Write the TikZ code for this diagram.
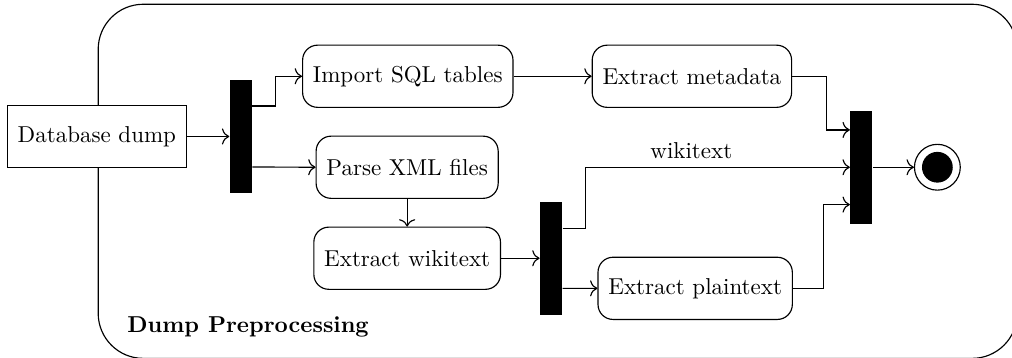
\documentclass[tikz,border=0pt]{standalone}
\usepackage{amssymb}
\usepackage{amsmath}
\usepackage{tikz}
\usetikzlibrary{calc,arrows.meta}

\tikzset{
    action/.style={draw, rounded corners=6.5pt, minimum height=0.95cm, inner xsep=4.5pt},
    source/.style={draw, minimum height=0.95cm, inner xsep=4.5pt},
    forkbar/.style={fill=black, minimum width=0.336cm, minimum height=1.73cm, inner sep=0pt},
    flow/.style={-{To[length=3.2pt, width=7pt]}},
}

\begin{document}
\begin{tikzpicture}[line width=0.5pt]
        \useasboundingbox (0,0) rectangle (15.46,5.455);
        \draw [rounded corners=19.6pt](1.50,-0.02) rectangle (15.54,5.39);
        \node[] (title) at (3.79,0.46) {\textbf{Dump Preprocessing}};

        \node[source, fill=white] (dump) at (1.48,3.37) {Database dump};
        \node[forkbar] (fork) at (3.68,3.37) {};
        \node[action] (import) at (6.23,4.29) {Import SQL tables};
        \node[action] (meta) at (10.57,4.29) {Extract metadata};
        \node[action] (parse) at (6.22,2.90) {Parse XML files};
        \node[action] (wiki) at (6.22,1.51) {Extract wikitext};
        \node[forkbar] (split) at (8.42,1.51) {};
        \node[action] (plain) at (10.62,1.05) {Extract plaintext};
        \node[forkbar] (join) at (13.16,2.90) {};
        \node[circle, draw, minimum size=0.70cm, inner sep=0pt] (final) at (14.32,2.90) {};
        \node[circle, fill=black, minimum size=0.47cm, inner sep=0pt] (finaldot) at (final) {};

        \draw[flow] (dump.east) -- (fork.west);
        \draw[flow] ([yshift=0.466cm]fork.east) -- ++(0.35,0) |- (import.west);
        \draw[flow] ([yshift=-0.466cm]fork.east) -- (parse.west);
        \draw[flow] (import.east) -- (meta.west);
        \draw[flow] (meta.east) -- ++(0.53,0) |- ([yshift=0.57cm]join.west);
        \draw[flow] (parse.south) -- (wiki.north);
        \draw[flow] (wiki.east) -- (split.west);
        \draw[flow] ([yshift=0.46cm]split.east) -- ++(0.35,0) |- node[above, pos=0.7] (wikilabel) {wikitext} (join.west);
        \draw[flow] ([yshift=-0.46cm]split.east) -- (plain.west);
        \draw[flow] (plain.east) -- ++(0.47,0) |- ([yshift=-0.57cm]join.west);
        \draw[flow] (join.east) -- (final.west);
\end{tikzpicture}
\end{document}
